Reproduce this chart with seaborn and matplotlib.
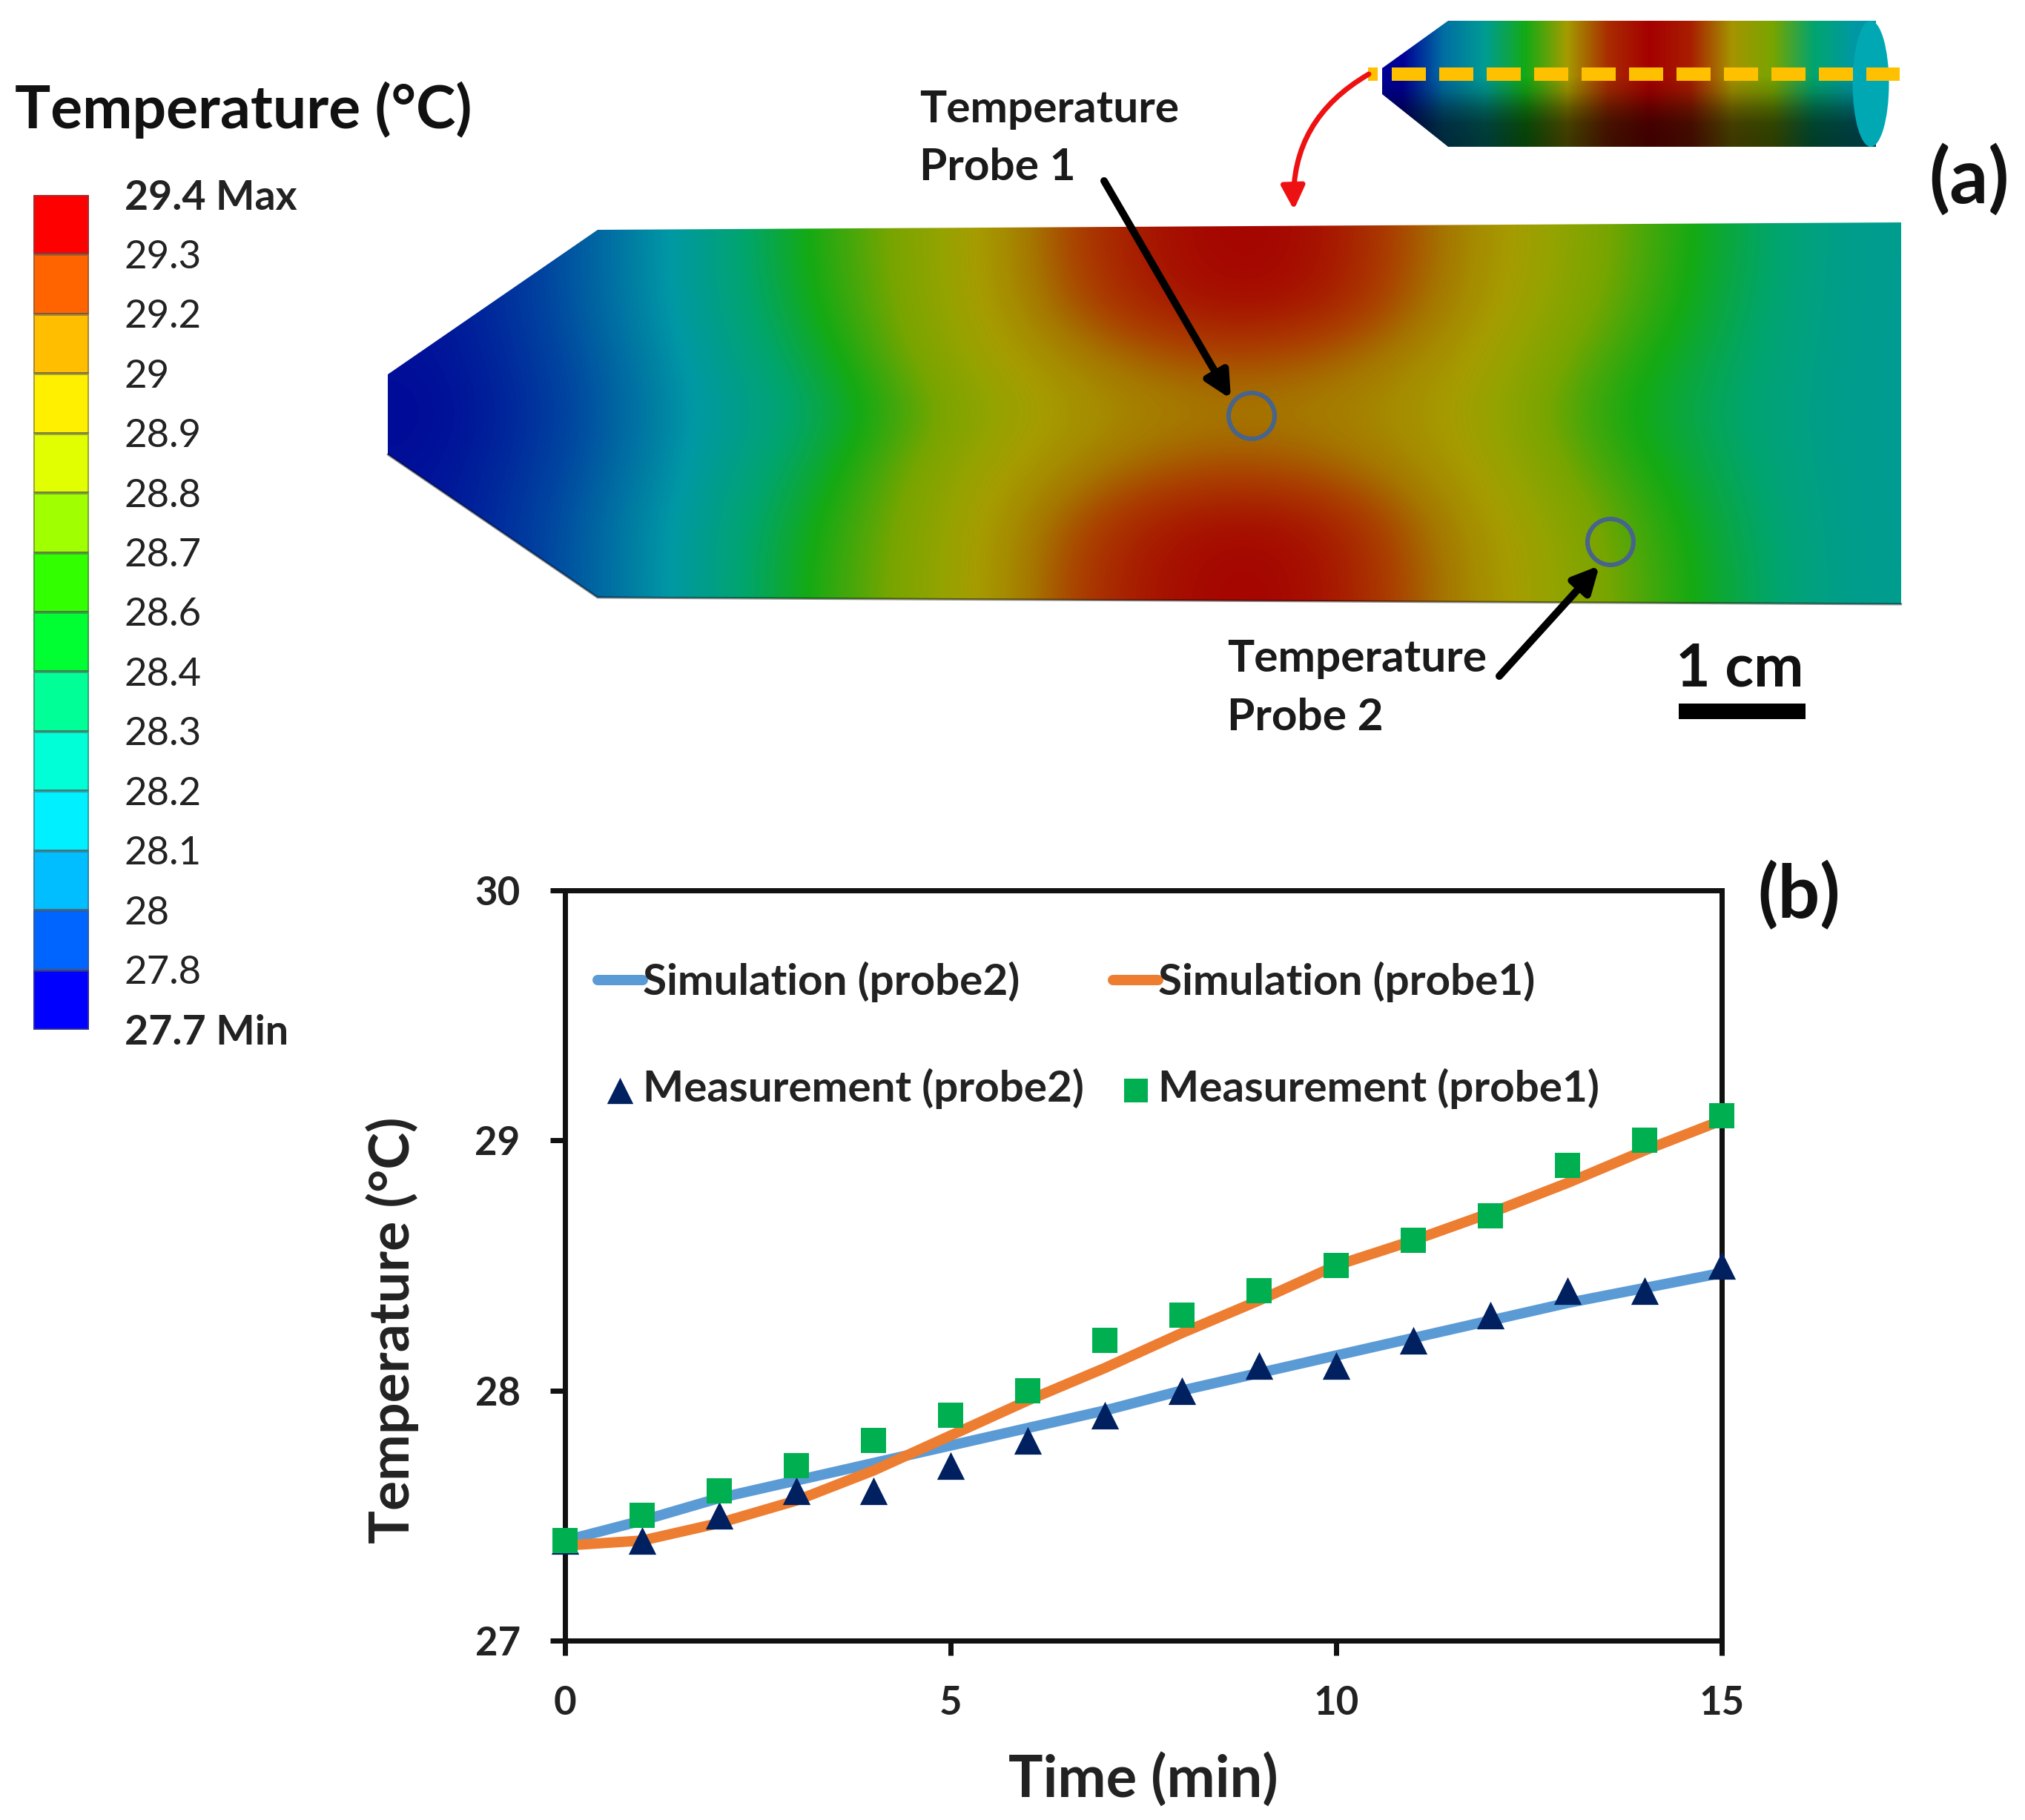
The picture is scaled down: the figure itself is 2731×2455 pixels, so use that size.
import numpy as np
import seaborn as sns
import matplotlib.pyplot as plt
from matplotlib.colors import LinearSegmentedColormap, ListedColormap, Normalize
from matplotlib.patches import Polygon, Circle, Ellipse, FancyArrowPatch, Rectangle

W, H = 2731, 2455
PX = 0.72  # one pixel in points at dpi 100

# panel (b)
time_min = list(range(16))
sim_probe2 = [27.40, 27.48, 27.57, 27.64, 27.71, 27.78, 27.85, 27.92, 28.00, 28.07, 28.14, 28.21, 28.28, 28.35, 28.41, 28.47]
sim_probe1 = [27.38, 27.40, 27.47, 27.56, 27.68, 27.82, 27.96, 28.09, 28.23, 28.36, 28.50, 28.60, 28.71, 28.83, 28.96, 29.08]
meas_probe2 = [27.4, 27.4, 27.5, 27.6, 27.6, 27.7, 27.8, 27.9, 28.0, 28.1, 28.1, 28.2, 28.3, 28.4, 28.4, 28.5]
meas_probe1 = [27.4, 27.5, 27.6, 27.7, 27.8, 27.9, 28.0, 28.2, 28.3, 28.4, 28.5, 28.6, 28.7, 28.9, 29.0, 29.1]

# colour key of panel (a)
key_labels = ["29.4 Max", "29.3", "29.2", "29", "28.9", "28.8", "28.7", "28.6", "28.4",
              "28.3", "28.2", "28.1", "28", "27.8", "27.7 Min"]
key_colors = ["#ff0000", "#ff6400", "#ffbe00", "#fff000", "#e1ff00", "#a0ff00", "#32ff00",
              "#00ff32", "#00ff96", "#00ffd7", "#00f0ff", "#00beff", "#0064ff", "#0000ff"]

section_temp = [
    [27.75, 27.95, 28.15, 28.45, 28.75, 29.25, 29.40, 29.37, 29.00, 28.65, 28.35, 28.15],
    [27.75, 27.95, 28.15, 28.42, 28.75, 29.20, 29.38, 29.34, 28.97, 28.62, 28.33, 28.15],
    [27.74, 27.92, 28.13, 28.35, 28.72, 29.02, 29.18, 29.12, 28.90, 28.52, 28.30, 28.15],
    [27.72, 27.90, 28.12, 28.28, 28.62, 28.92, 29.02, 29.00, 28.85, 28.45, 28.28, 28.15],
    [27.74, 27.92, 28.13, 28.35, 28.72, 29.02, 29.18, 29.12, 28.90, 28.52, 28.30, 28.15],
    [27.75, 27.95, 28.15, 28.42, 28.75, 29.20, 29.38, 29.34, 28.97, 28.62, 28.33, 28.15],
    [27.75, 27.95, 28.15, 28.45, 28.75, 29.25, 29.40, 29.37, 29.00, 28.65, 28.35, 28.15],
]
cylinder_temp = [27.70, 28.00, 28.15, 28.40, 28.85, 29.25, 29.40, 29.30, 28.90, 28.60, 28.25, 28.10]
cylinder_shade = [1.0, 1.0, 1.0, 1.0, 0.85, 0.60, 0.42, 0.38]

field_stops = [27.7, 27.9, 28.1, 28.25, 28.4, 28.6, 28.75, 28.85, 28.95, 29.05, 29.2, 29.4]
field_colors = ["#000096", "#0046a0", "#0098a5", "#00a56e", "#14aa14", "#78a500", "#96a300", "#a59c00",
                "#a58c00", "#a57400", "#aa3c00", "#a50000"]

sns.set_theme(style="white")
plt.rcParams["font.family"] = ["Lato", "DejaVu Sans"]

fig = plt.figure(figsize=(W / 100, H / 100), dpi=100)

# px canvas for the diagram parts
canvas = fig.add_axes([0, 0, 1, 1], zorder=1)
canvas.patch.set_alpha(0)
canvas.axis("off")

span = field_stops[-1] - field_stops[0]
field_cmap = LinearSegmentedColormap.from_list(
    "field", [((s - field_stops[0]) / span, c) for s, c in zip(field_stops, field_colors)])
field_norm = Normalize(field_stops[0], field_stops[-1])

# section
section = canvas.imshow(section_temp, cmap=field_cmap, norm=field_norm, interpolation="bicubic",
                        extent=(523, 2564, 815, 300), aspect="auto")
outline = Polygon([(523, 505), (806, 310), (2564, 300), (2564, 815), (806, 806), (523, 613)],
                  closed=True, transform=canvas.transData, fc="none", ec="none")
canvas.add_patch(outline)
section.set_clip_path(outline)
canvas.plot([523, 806, 2564], [613, 806, 815], color="black", alpha=0.45, lw=3 * PX)

# cylinder view
cyl_rgb = field_cmap(field_norm(np.array(cylinder_temp)))[:, :3]
cyl_img = cyl_rgb[None, :, :] * np.array(cylinder_shade)[:, None, None]
cylinder = canvas.imshow(cyl_img, interpolation="bilinear", extent=(1864, 2530, 198, 28), aspect="auto")
cyl_outline = Polygon([(1864, 92), (1953, 28), (2530, 28), (2530, 198), (1953, 198), (1864, 127)],
                      closed=True, transform=canvas.transData, fc="none", ec="none")
canvas.add_patch(cyl_outline)
cylinder.set_clip_path(cyl_outline)
canvas.add_patch(Ellipse((2523, 113), 49, 170, fc="#00a8b4", ec="none", zorder=3))

# cut line
canvas.plot([1845, 1858], [100, 100], color="#ffc000", lw=18 * PX, solid_capstyle="butt", zorder=4)
canvas.plot([1877, 2562], [100, 100], color="#ffc000", lw=18 * PX, zorder=4,
            linestyle=(0, (46 / 18, 18 / 18)), dash_capstyle="butt")
canvas.add_patch(FancyArrowPatch((1846, 100), (1745, 283), connectionstyle="arc3,rad=0.3",
                                 arrowstyle="-|>", mutation_scale=48, color="#ee1111",
                                 lw=7 * PX, shrinkA=0, shrinkB=0, zorder=4))

# probes
for center in [(1688, 561), (2172, 731)]:
    canvas.add_patch(Circle(center, 31, fc="none", ec="#46648c", lw=6 * PX, zorder=4))
canvas.add_patch(FancyArrowPatch((1489, 244), (1660, 538), arrowstyle="-|>", mutation_scale=52,
                                 color="black", lw=10 * PX, shrinkA=0, shrinkB=0, zorder=5))
canvas.add_patch(FancyArrowPatch((2022, 912), (2157, 763), arrowstyle="-|>", mutation_scale=52,
                                 color="black", lw=10 * PX, shrinkA=0, shrinkB=0, zorder=5))

txt = dict(color="#1a1a1a", va="center", ha="left", fontweight="bold")
canvas.text(1240, 148, "Temperature", fontsize=43.5, **txt)
canvas.text(1240, 226, "Probe 1", fontsize=43.5, **txt)
canvas.text(1655, 889, "Temperature", fontsize=43.5, **txt)
canvas.text(1655, 968, "Probe 2", fontsize=43.5, **txt)
canvas.text(2346, 902, "1 cm", fontsize=58, ha="center", va="center", fontweight="bold", color="#111111")
canvas.add_patch(Rectangle((2264, 949), 171, 21, fc="black", ec="none"))
canvas.text(2656, 242, "(a)", fontsize=74, ha="center", va="center", fontweight="bold", color="#111111")
canvas.text(2426, 1208, "(b)", fontsize=72, ha="center", va="center", fontweight="bold", color="#111111")

# colour key
canvas.text(20, 148, "Temperature (°C)", fontsize=58, ha="left", va="center", fontweight="bold", color="#111111")
key_top, key_bottom = 263, 1389
key_ax = fig.add_axes([45 / W, 1 - key_bottom / H, 75 / W, (key_bottom - key_top) / H], zorder=2)
sns.heatmap(np.arange(len(key_colors))[:, None], cmap=ListedColormap(key_colors), cbar=False,
            linewidths=1.5, linecolor="#55555580", xticklabels=False, yticklabels=False, ax=key_ax)
key_step = (key_bottom - key_top) / len(key_colors)
for i, label in enumerate(key_labels):
    bold = "Max" in label or "Min" in label
    canvas.text(168, key_top + i * key_step + 4, label, fontsize=40 if bold else 38, ha="left", va="center",
                fontweight="bold" if bold else "normal", color="#222222")

# panel (b)
ax = fig.add_axes([762 / W, 1 - 2213 / H, (2322 - 762) / W, (2213 - 1201) / H], zorder=3)
ax.patch.set_alpha(0)
sns.lineplot(x=time_min, y=sim_probe2, color="#5b9bd5", linewidth=14 * PX, label="Simulation (probe2)",
             solid_capstyle="round", ax=ax, clip_on=False)
sns.scatterplot(x=time_min, y=meas_probe2, marker="^", s=720, color="#002060", linewidth=0,
                label="Measurement (probe2)", ax=ax, clip_on=False, zorder=5)
sns.lineplot(x=time_min, y=sim_probe1, color="#ed7d31", linewidth=14 * PX, label="Simulation (probe1)",
             solid_capstyle="round", ax=ax, clip_on=False)
sns.scatterplot(x=time_min, y=meas_probe1, marker="s", s=590, color="#00b050", linewidth=0,
                label="Measurement (probe1)", ax=ax, clip_on=False, zorder=6)

ax.set_xlim(0, 15)
ax.set_ylim(27, 30)
ax.set_xticks([0, 5, 10, 15])
ax.set_yticks([27, 28, 29, 30])
ax.tick_params(axis="both", which="major", direction="out", length=20 * PX, width=7 * PX,
               labelsize=38, color="#111111", labelcolor="#222222", pad=29, bottom=True, left=True)
for tick in ax.get_xticklabels() + ax.get_yticklabels():
    tick.set_fontweight("bold")
for spine in ax.spines.values():
    spine.set_linewidth(7 * PX)
    spine.set_color("#111111")
ax.set_xlabel("Time (min)", fontsize=56, fontweight="bold", color="#222222", labelpad=30)
ax.set_ylabel("Temperature (°C)", fontsize=54, fontweight="bold", color="#222222", labelpad=54, y=0.414)

handles, labels = ax.get_legend_handles_labels()
order = [labels.index(s) for s in ["Simulation (probe2)", "Measurement (probe2)", "Simulation (probe1)", "Measurement (probe1)"]]
legend = ax.legend([handles[i] for i in order], [labels[i] for i in order], ncol=2, frameon=False,
                   loc="upper left", bbox_to_anchor=(44 / 1560, 1 - 96 / 1012), borderpad=0, borderaxespad=0,
                   fontsize=42, handlelength=1.04, handletextpad=0.0, columnspacing=0.68,
                   labelspacing=1.52, markerscale=0.95)
for text in legend.get_texts():
    text.set_fontweight("bold")
    text.set_color("#222222")

canvas.set_xlim(0, W)
canvas.set_ylim(H, 0)

fig.savefig("out.png", dpi=100)
